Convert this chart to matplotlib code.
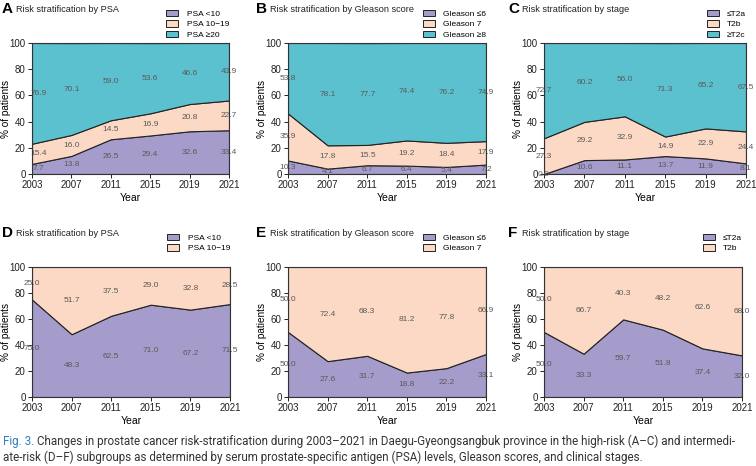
import matplotlib
matplotlib.use("Agg")
import matplotlib.pyplot as plt
from matplotlib.patches import Patch

plt.rcParams['font.family'] = ['Liberation Sans', 'DejaVu Sans']

years = ['2003', '2007', '2011', '2015', '2019', '2021']

# high-risk subgroup
psa_hi_lt10 = [7.7, 13.8, 26.5, 29.4, 32.6, 33.4]
psa_hi_10_19 = [15.4, 16.0, 14.5, 16.9, 20.8, 22.7]
psa_hi_ge20 = [76.9, 70.1, 59.0, 53.6, 46.6, 43.9]

gl_hi_le6 = [10.3, 4.1, 6.7, 6.4, 5.4, 7.2]
gl_hi_7 = [35.9, 17.8, 15.5, 19.2, 18.4, 17.9]
gl_hi_ge8 = [53.8, 78.1, 77.7, 74.4, 76.2, 74.9]

st_hi_le_t2a = [0.0, 10.6, 11.1, 13.7, 11.9, 8.1]
st_hi_t2b = [27.3, 29.2, 32.9, 14.9, 22.9, 24.4]
st_hi_ge_t2c = [72.7, 60.2, 56.0, 71.3, 65.2, 67.5]

# intermediate-risk subgroup
psa_int_lt10 = [75.0, 48.3, 62.5, 71.0, 67.2, 71.5]
psa_int_10_19 = [25.0, 51.7, 37.5, 29.0, 32.8, 28.5]

gl_int_le6 = [50.0, 27.6, 31.7, 18.8, 22.2, 33.1]
gl_int_7 = [50.0, 72.4, 68.3, 81.2, 77.8, 66.9]

st_int_le_t2a = [50.0, 33.3, 59.7, 51.8, 37.4, 32.0]
st_int_t2b = [50.0, 66.7, 40.3, 48.2, 62.6, 68.0]

purple = '#a69ccc'
peach = '#fcd9c4'
teal = '#5bc1cf'
colors = [purple, peach, teal]

W, H = 756, 466
fig = plt.figure(figsize=(W / 100, H / 100), dpi=100)


def add_px_axes(l, t, r, b):
    return fig.add_axes([l / W, 1 - b / H, (r - l) / W, (b - t) / H])


def draw_panel(box, letter, title, series, labels, title_x, first_shift=0.0):
    ax = add_px_axes(*box)
    aw = box[2] - box[0]
    ah = box[3] - box[1]
    x = list(range(len(years)))
    ax.stackplot(x, *series, colors=colors[:len(series)],
                 edgecolor='#222222', linewidth=0.8)
    # value labels in the middle of each band
    base = [0.0] * len(years)
    for s in series:
        for i, v in enumerate(s):
            xi = i + (first_shift if i == 0 else 0)
            ax.text(xi, base[i] + v / 2, "{:.1f}".format(v), ha='center', va='center',
                    fontsize=6, color='#5a5a5a', clip_on=False)
        base = [b + v for b, v in zip(base, s)]

    ax.set_xlim(0, len(years) - 1)
    ax.set_ylim(0, 100)
    ax.set_xticks(x)
    ax.set_xticklabels(years)
    ax.set_yticks(range(0, 101, 20))
    ax.tick_params(labelsize=7, length=3, width=0.7, pad=1.5, colors='#222222')
    for sp in ax.spines.values():
        sp.set_linewidth(0.8)
        sp.set_color('#333333')
    ax.set_ylabel('% of patients', fontsize=7.2)
    ax.yaxis.set_label_coords(-21 / aw, 0.5)
    ax.set_xlabel('Year', fontsize=7.5, labelpad=2)

    handles = [Patch(facecolor=c, edgecolor='#222222', linewidth=0.7) for c in colors[:len(series)]]
    ax.legend(handles, labels, loc='upper right', bbox_to_anchor=(1.0, 1.0 + 33 / ah),
              frameon=False, fontsize=6.0, handlelength=1.45, handleheight=0.75,
              labelspacing=0.3, borderpad=0, borderaxespad=0, handletextpad=1.0)

    ty = 1 - (box[1] - 34) / H
    fig.text(title_x / W, ty, letter, fontsize=11, fontweight='bold', va='center', ha='left')
    fig.text((title_x + 14) / W, ty, title, fontsize=6.6, va='center', ha='left', color='#222222')
    return ax


draw_panel((32, 43, 229, 174), 'A', 'Risk stratification by PSA',
           [psa_hi_lt10, psa_hi_10_19, psa_hi_ge20],
           ['PSA <10', 'PSA 10\u221219', 'PSA \u226520'], 2, first_shift=0.17)
draw_panel((288, 43, 486, 174), 'B', 'Risk stratification by Gleason score',
           [gl_hi_le6, gl_hi_7, gl_hi_ge8],
           ['Gleason \u22646', 'Gleason 7', 'Gleason \u22658'], 256)
draw_panel((544, 43, 746, 174), 'C', 'Risk stratification by stage',
           [st_hi_le_t2a, st_hi_t2b, st_hi_ge_t2c],
           ['\u2264T2a', 'T2b', '\u2265T2c'], 508)
draw_panel((32, 267, 230, 397), 'D', 'Risk stratification by PSA',
           [psa_int_lt10, psa_int_10_19],
           ['PSA <10', 'PSA 10\u221219'], 2)
draw_panel((288, 267, 486, 397), 'E', 'Risk stratification by Gleason score',
           [gl_int_le6, gl_int_7],
           ['Gleason \u22646', 'Gleason 7'], 256)
draw_panel((544, 267, 742, 397), 'F', 'Risk stratification by stage',
           [st_int_le_t2a, st_int_t2b],
           ['\u2264T2a', 'T2b'], 508)

# caption
cap_font = 'Roboto'
cap_size = 8.4
line1_rest = ("Changes in prostate cancer risk-stratification during 2003\u20132021 in Daegu-Gyeongsangbuk "
              "province in the high-risk (A\u2013C) and intermedi-")
line2 = ("ate-risk (D\u2013F) subgroups as determined by serum prostate-specific antigen (PSA) levels, "
         "Gleason scores, and clinical stages.")
renderer = fig.canvas.get_renderer()
t1 = fig.text(3 / W, 1 - 441 / H, 'Fig. 3.', fontsize=cap_size, color='#2f7fc1',
              family=cap_font, va='center', ha='left')
bb = t1.get_window_extent(renderer)
fig.text((bb.x1 + 3) / W, 1 - 441 / H, line1_rest, fontsize=cap_size, color='#333333',
         family=cap_font, va='center', ha='left')
fig.text(3 / W, 1 - 457 / H, line2, fontsize=cap_size, color='#333333',
         family=cap_font, va='center', ha='left')

fig.savefig('out.png', dpi=100)
